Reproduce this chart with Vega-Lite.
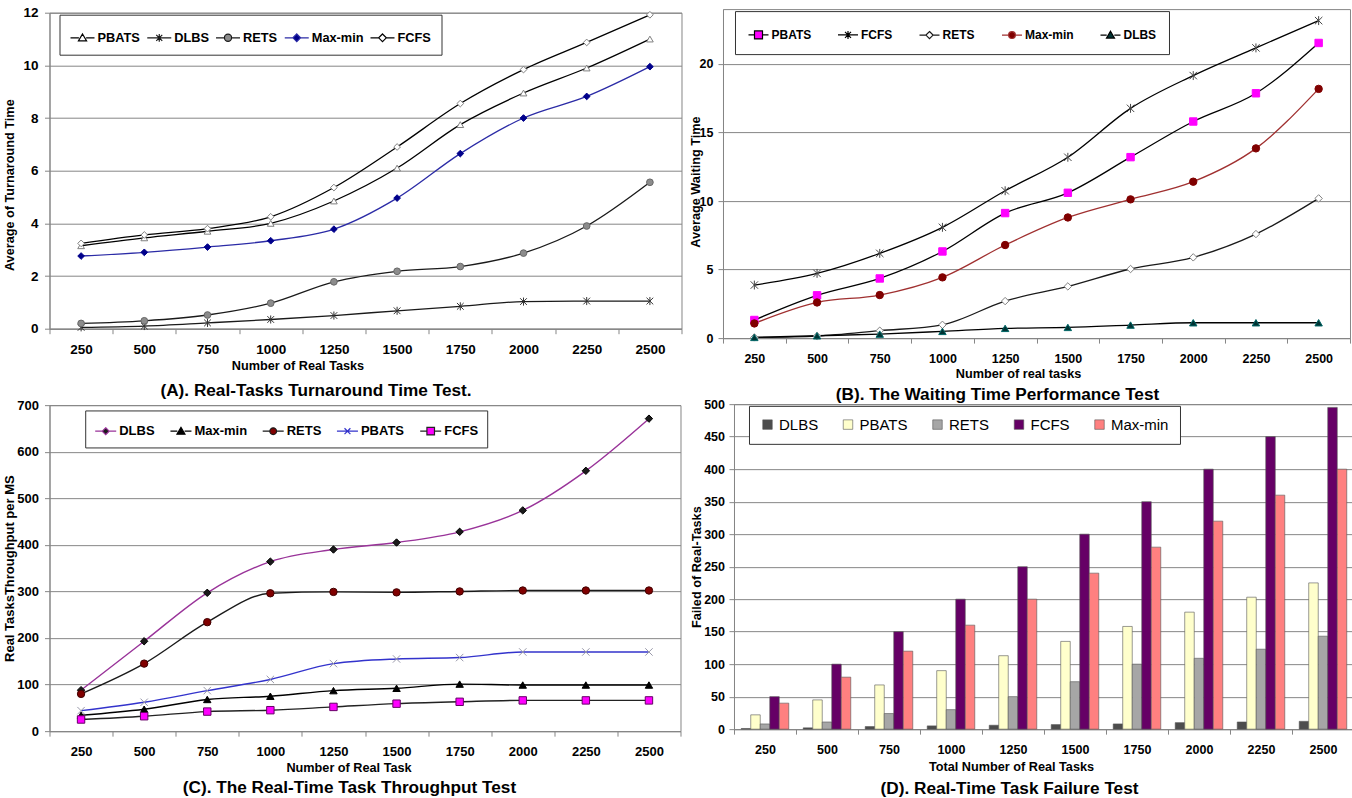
{
"$schema":"https://vega.github.io/schema/vega-lite/v6.json",
"background":"white",
"padding":{"left":2.5,"top":4.9,"right":0,"bottom":0},
"config":{
 "font":"Liberation Sans",
 "view":{"stroke":"#868686","strokeWidth":1},
 "axis":{"labelFont":"Liberation Sans","titleFont":"Liberation Sans","labelColor":"#000000","titleColor":"#000000","labelFontWeight":"bold","titleFontWeight":"bold","titleFontSize":12.7,"domainColor":"#868686","tickColor":"#868686","gridColor":"#868686","gridWidth":1,"tickSize":5},
 "axisX":{"grid":false,"labelAngle":0,"tickBand":"extent"},
 "axisY":{"grid":true},
 "legend":{"labelFont":"Liberation Sans","labelColor":"#000000"},
 "title":{"font":"Liberation Sans","fontWeight":"bold","fontSize":17.2,"color":"#000000","orient":"bottom","anchor":"middle","frame":"group"}
},
"datasets":{
"A":[
{"n":250,"s":"PBATS","v":3.15},{"n":500,"s":"PBATS","v":3.45},{"n":750,"s":"PBATS","v":3.7},{"n":1000,"s":"PBATS","v":4.0},{"n":1250,"s":"PBATS","v":4.85},{"n":1500,"s":"PBATS","v":6.1},{"n":1750,"s":"PBATS","v":7.75},{"n":2000,"s":"PBATS","v":8.95},{"n":2250,"s":"PBATS","v":9.9},{"n":2500,"s":"PBATS","v":11.0},
{"n":250,"s":"DLBS","v":0.05},{"n":500,"s":"DLBS","v":0.1},{"n":750,"s":"DLBS","v":0.22},{"n":1000,"s":"DLBS","v":0.35},{"n":1250,"s":"DLBS","v":0.5},{"n":1500,"s":"DLBS","v":0.68},{"n":1750,"s":"DLBS","v":0.85},{"n":2000,"s":"DLBS","v":1.03},{"n":2250,"s":"DLBS","v":1.05},{"n":2500,"s":"DLBS","v":1.05},
{"n":250,"s":"RETS","v":0.2},{"n":500,"s":"RETS","v":0.3},{"n":750,"s":"RETS","v":0.52},{"n":1000,"s":"RETS","v":0.97},{"n":1250,"s":"RETS","v":1.78},{"n":1500,"s":"RETS","v":2.18},{"n":1750,"s":"RETS","v":2.36},{"n":2000,"s":"RETS","v":2.87},{"n":2250,"s":"RETS","v":3.9},{"n":2500,"s":"RETS","v":5.56},
{"n":250,"s":"Max-min","v":2.76},{"n":500,"s":"Max-min","v":2.9},{"n":750,"s":"Max-min","v":3.1},{"n":1000,"s":"Max-min","v":3.34},{"n":1250,"s":"Max-min","v":3.78},{"n":1500,"s":"Max-min","v":4.96},{"n":1750,"s":"Max-min","v":6.65},{"n":2000,"s":"Max-min","v":8.0},{"n":2250,"s":"Max-min","v":8.82},{"n":2500,"s":"Max-min","v":9.95},
{"n":250,"s":"FCFS","v":3.24},{"n":500,"s":"FCFS","v":3.56},{"n":750,"s":"FCFS","v":3.8},{"n":1000,"s":"FCFS","v":4.25},{"n":1250,"s":"FCFS","v":5.36},{"n":1500,"s":"FCFS","v":6.9},{"n":1750,"s":"FCFS","v":8.55},{"n":2000,"s":"FCFS","v":9.84},{"n":2250,"s":"FCFS","v":10.87},{"n":2500,"s":"FCFS","v":11.92}
],
"B":[
{"n":250,"s":"PBATS","v":1.32},{"n":500,"s":"PBATS","v":3.12},{"n":750,"s":"PBATS","v":4.35},{"n":1000,"s":"PBATS","v":6.32},{"n":1250,"s":"PBATS","v":9.12},{"n":1500,"s":"PBATS","v":10.6},{"n":1750,"s":"PBATS","v":13.2},{"n":2000,"s":"PBATS","v":15.8},{"n":2250,"s":"PBATS","v":17.86},{"n":2500,"s":"PBATS","v":21.53},
{"n":250,"s":"FCFS","v":3.87},{"n":500,"s":"FCFS","v":4.72},{"n":750,"s":"FCFS","v":6.18},{"n":1000,"s":"FCFS","v":8.08},{"n":1250,"s":"FCFS","v":10.75},{"n":1500,"s":"FCFS","v":13.19},{"n":1750,"s":"FCFS","v":16.76},{"n":2000,"s":"FCFS","v":19.15},{"n":2250,"s":"FCFS","v":21.17},{"n":2500,"s":"FCFS","v":23.16},
{"n":250,"s":"RETS","v":0.05},{"n":500,"s":"RETS","v":0.15},{"n":750,"s":"RETS","v":0.54},{"n":1000,"s":"RETS","v":0.97},{"n":1250,"s":"RETS","v":2.7},{"n":1500,"s":"RETS","v":3.77},{"n":1750,"s":"RETS","v":5.04},{"n":2000,"s":"RETS","v":5.89},{"n":2250,"s":"RETS","v":7.59},{"n":2500,"s":"RETS","v":10.19},
{"n":250,"s":"Max-min","v":1.07},{"n":500,"s":"Max-min","v":2.6},{"n":750,"s":"Max-min","v":3.14},{"n":1000,"s":"Max-min","v":4.43},{"n":1250,"s":"Max-min","v":6.79},{"n":1500,"s":"Max-min","v":8.8},{"n":1750,"s":"Max-min","v":10.12},{"n":2000,"s":"Max-min","v":11.41},{"n":2250,"s":"Max-min","v":13.84},{"n":2500,"s":"Max-min","v":18.18},
{"n":250,"s":"DLBS","v":0.05},{"n":500,"s":"DLBS","v":0.17},{"n":750,"s":"DLBS","v":0.29},{"n":1000,"s":"DLBS","v":0.49},{"n":1250,"s":"DLBS","v":0.71},{"n":1500,"s":"DLBS","v":0.78},{"n":1750,"s":"DLBS","v":0.95},{"n":2000,"s":"DLBS","v":1.12},{"n":2250,"s":"DLBS","v":1.12},{"n":2500,"s":"DLBS","v":1.12}
],
"C":[
{"n":250,"s":"DLBS","v":88},{"n":500,"s":"DLBS","v":193},{"n":750,"s":"DLBS","v":297},{"n":1000,"s":"DLBS","v":364},{"n":1250,"s":"DLBS","v":390},{"n":1500,"s":"DLBS","v":405},{"n":1750,"s":"DLBS","v":428},{"n":2000,"s":"DLBS","v":474},{"n":2250,"s":"DLBS","v":559},{"n":2500,"s":"DLBS","v":671},
{"n":250,"s":"Max-min","v":34},{"n":500,"s":"Max-min","v":47},{"n":750,"s":"Max-min","v":68},{"n":1000,"s":"Max-min","v":75},{"n":1250,"s":"Max-min","v":87},{"n":1500,"s":"Max-min","v":92},{"n":1750,"s":"Max-min","v":101},{"n":2000,"s":"Max-min","v":99},{"n":2250,"s":"Max-min","v":99},{"n":2500,"s":"Max-min","v":99},
{"n":250,"s":"RETS","v":80},{"n":500,"s":"RETS","v":145},{"n":750,"s":"RETS","v":234},{"n":1000,"s":"RETS","v":296},{"n":1250,"s":"RETS","v":299},{"n":1500,"s":"RETS","v":298},{"n":1750,"s":"RETS","v":300},{"n":2000,"s":"RETS","v":302},{"n":2250,"s":"RETS","v":302},{"n":2500,"s":"RETS","v":302},
{"n":250,"s":"PBATS","v":44},{"n":500,"s":"PBATS","v":62},{"n":750,"s":"PBATS","v":87},{"n":1000,"s":"PBATS","v":111},{"n":1250,"s":"PBATS","v":145},{"n":1500,"s":"PBATS","v":155},{"n":1750,"s":"PBATS","v":158},{"n":2000,"s":"PBATS","v":170},{"n":2250,"s":"PBATS","v":170},{"n":2500,"s":"PBATS","v":170},
{"n":250,"s":"FCFS","v":25},{"n":500,"s":"FCFS","v":32},{"n":750,"s":"FCFS","v":42},{"n":1000,"s":"FCFS","v":45},{"n":1250,"s":"FCFS","v":52},{"n":1500,"s":"FCFS","v":59},{"n":1750,"s":"FCFS","v":63},{"n":2000,"s":"FCFS","v":66},{"n":2250,"s":"FCFS","v":66},{"n":2500,"s":"FCFS","v":66}
],
"D":[
{"n":250,"s":"DLBS","v":1},{"n":500,"s":"DLBS","v":2},{"n":750,"s":"DLBS","v":4},{"n":1000,"s":"DLBS","v":5},{"n":1250,"s":"DLBS","v":6},{"n":1500,"s":"DLBS","v":7},{"n":1750,"s":"DLBS","v":8},{"n":2000,"s":"DLBS","v":10},{"n":2250,"s":"DLBS","v":11},{"n":2500,"s":"DLBS","v":12},
{"n":250,"s":"PBATS","v":22},{"n":500,"s":"PBATS","v":45},{"n":750,"s":"PBATS","v":68},{"n":1000,"s":"PBATS","v":90},{"n":1250,"s":"PBATS","v":113},{"n":1500,"s":"PBATS","v":135},{"n":1750,"s":"PBATS","v":158},{"n":2000,"s":"PBATS","v":180},{"n":2250,"s":"PBATS","v":203},{"n":2500,"s":"PBATS","v":225},
{"n":250,"s":"RETS","v":8},{"n":500,"s":"RETS","v":11},{"n":750,"s":"RETS","v":24},{"n":1000,"s":"RETS","v":30},{"n":1250,"s":"RETS","v":50},{"n":1500,"s":"RETS","v":73},{"n":1750,"s":"RETS","v":100},{"n":2000,"s":"RETS","v":109},{"n":2250,"s":"RETS","v":123},{"n":2500,"s":"RETS","v":143},
{"n":250,"s":"FCFS","v":50},{"n":500,"s":"FCFS","v":100},{"n":750,"s":"FCFS","v":150},{"n":1000,"s":"FCFS","v":200},{"n":1250,"s":"FCFS","v":250},{"n":1500,"s":"FCFS","v":300},{"n":1750,"s":"FCFS","v":350},{"n":2000,"s":"FCFS","v":400},{"n":2250,"s":"FCFS","v":450},{"n":2500,"s":"FCFS","v":495},
{"n":250,"s":"Max-min","v":40},{"n":500,"s":"Max-min","v":80},{"n":750,"s":"Max-min","v":120},{"n":1000,"s":"Max-min","v":160},{"n":1250,"s":"Max-min","v":200},{"n":1500,"s":"Max-min","v":240},{"n":1750,"s":"Max-min","v":280},{"n":2000,"s":"Max-min","v":320},{"n":2250,"s":"Max-min","v":360},{"n":2500,"s":"Max-min","v":400}
]
},
"spacing":-7,
"resolve":{"scale":{"color":"independent","fill":"independent","stroke":"independent","shape":"independent"},"legend":{"color":"independent","fill":"independent","stroke":"independent","shape":"independent"}},
"vconcat":[
{"bounds":"full","center":true,"spacing":6.5,
 "resolve":{"scale":{"color":"independent","fill":"independent","stroke":"independent","shape":"independent"},"legend":{"color":"independent","fill":"independent","stroke":"independent","shape":"independent"}},
 "hconcat":[
 {"width":632,"height":316,"data":{"name":"A"},
  "title":{"text":"(A). Real-Tasks Turnaround Time Test.","dx":-49.5,"offset":10},
  "encoding":{
   "x":{"field":"n","type":"ordinal","scale":{"type":"band","paddingInner":0,"paddingOuter":0},"axis":{"title":"Number of Real Tasks","labelFontSize":13.5,"labelPadding":8.5,"titleX":248,"titleY":31}},
   "y":{"field":"v","type":"quantitative","scale":{"domain":[0,12],"nice":false},"axis":{"title":"Average of Turnaround Time","values":[0,2,4,6,8,10,12],"labelFontSize":13.5,"labelPadding":6.5,"titleX":-33,"titleY":172}}
  },
  "layer":[
   {"mark":{"type":"line","interpolate":"monotone","strokeWidth":1.3},
    "encoding":{"color":{"field":"s","type":"nominal","scale":{"domain":["PBATS","DLBS","RETS","Max-min","FCFS"],"range":["#000000","#1a1a1a","#1a1a1a","#2b2ba6","#000000"]},
      "legend":{"title":null,"orient":"none","legendX":10,"legendY":2,"direction":"horizontal","columns":5,"padding":10,"strokeColor":"#333333","fillColor":"#ffffff","symbolSize":576,"labelFontSize":12.8,"labelFontWeight":"bold","labelOffset":2,"columnPadding":3.75,"symbolStrokeWidth":1.2,
       "encode":{"symbols":{"update":{
        "shape":{"signal":"datum.value==='PBATS'?'M-1,0H-0.3M0.3,0H1M0,-0.32L0.34,0.26H-0.34Z':datum.value==='DLBS'?'M-1,0H1M-0.25,-0.25L0.25,0.25M0.25,-0.25L-0.25,0.25M0,-0.32V0.32':datum.value==='RETS'?'M-1,0H-0.3M0.3,0H1M0.3,0A0.3,0.3,0,1,1,-0.3,0A0.3,0.3,0,1,1,0.3,0Z':'M-1,0H-0.32M0.32,0H1M0,-0.32L0.32,0L0,0.32L-0.32,0Z'"},
        "fill":{"signal":"datum.value==='RETS'?'#8c8c8c':datum.value==='Max-min'?'#00008b':'#ffffff'"}}}}}}}},
   {"mark":{"type":"point","filled":true,"opacity":1,"size":45,"strokeWidth":1},
    "encoding":{
     "shape":{"field":"s","type":"nominal","legend":null,"scale":{"domain":["FCFS","Max-min","RETS","DLBS","PBATS"],"range":["diamond","diamond","circle","M-1,-1L1,1M1,-1L-1,1M0,-1.2V1.2","triangle-up"]}},
     "stroke":{"field":"s","type":"nominal","legend":null,"scale":{"domain":["FCFS","Max-min","RETS","DLBS","PBATS"],"range":["#808080","#00008b","#666666","#333333","#808080"]}},
     "fill":{"field":"s","type":"nominal","legend":null,"scale":{"domain":["FCFS","Max-min","RETS","DLBS","PBATS"],"range":["#ffffff","#00008b","#8c8c8c","#ffffff","#ffffff"]}}
    }}
  ]},
 {"width":627,"height":329,"data":{"name":"B"},
  "title":{"text":"(B). The Waiting Time Performance Test","dx":-39,"offset":6.2},
  "encoding":{
   "x":{"field":"n","type":"ordinal","scale":{"type":"band","paddingInner":0,"paddingOuter":0},"axis":{"title":"Number of real tasks","labelFontSize":12.5,"labelPadding":9.5,"titleX":295,"titleY":29}},
   "y":{"field":"v","type":"quantitative","scale":{"domain":[0,24],"nice":false},"axis":{"title":"Average Waiting Time","values":[0,5,10,15,20],"labelFontSize":12.5,"labelPadding":5,"titleX":-20,"titleY":172.5}}
  },
  "layer":[
   {"mark":{"type":"line","interpolate":"monotone","strokeWidth":1.3},
    "encoding":{"color":{"field":"s","type":"nominal","scale":{"domain":["PBATS","FCFS","RETS","Max-min","DLBS"],"range":["#000000","#000000","#1a1a1a","#a03030","#000000"]},
      "legend":{"title":null,"orient":"none","legendX":12,"legendY":2,"direction":"horizontal","columns":5,"padding":12.5,"strokeColor":"#333333","fillColor":"#ffffff","symbolSize":400,"labelFontSize":12,"labelFontWeight":"bold","labelOffset":2,"columnPadding":23.5,"symbolStrokeWidth":1.2,
       "encode":{"symbols":{"update":{
        "shape":{"signal":"datum.value==='PBATS'?'M-1,0H-0.4M0.4,0H1M-0.4,-0.4H0.4V0.4H-0.4Z':datum.value==='FCFS'?'M-1,0H1M-0.3,-0.3L0.3,0.3M0.3,-0.3L-0.3,0.3M0,-0.4V0.4':datum.value==='RETS'?'M-1,0H-0.36M0.36,0H1M0,-0.36L0.36,0L0,0.36L-0.36,0Z':datum.value==='Max-min'?'M-1,0H-0.34M0.34,0H1M0.34,0A0.34,0.34,0,1,1,-0.34,0A0.34,0.34,0,1,1,0.34,0Z':'M-1,0H-0.38M0.38,0H1M0,-0.38L0.4,0.3H-0.4Z'"},
        "fill":{"signal":"datum.value==='PBATS'?'#ff00ff':datum.value==='Max-min'?'#800000':datum.value==='DLBS'?'#003333':'#ffffff'"}}}}}}}},
   {"mark":{"type":"point","filled":true,"opacity":1,"size":55,"strokeWidth":1},
    "encoding":{
     "shape":{"field":"s","type":"nominal","legend":null,"scale":{"domain":["DLBS","Max-min","RETS","FCFS","PBATS"],"range":["triangle-up","circle","diamond","M-1,-1L1,1M1,-1L-1,1M0,-1.2V1.2","square"]}},
     "stroke":{"field":"s","type":"nominal","legend":null,"scale":{"domain":["DLBS","Max-min","RETS","FCFS","PBATS"],"range":["#006666","#800000","#808080","#444444","#ff00ff"]}},
     "fill":{"field":"s","type":"nominal","legend":null,"scale":{"domain":["DLBS","Max-min","RETS","FCFS","PBATS"],"range":["#003333","#800000","#ffffff","#ffffff","#ff00ff"]}}
    }}
  ]}
 ]},
{"bounds":"full","center":true,"spacing":8.5,
 "resolve":{"scale":{"color":"independent","fill":"independent","stroke":"independent","shape":"independent"},"legend":{"color":"independent","fill":"independent","stroke":"independent","shape":"independent"}},
 "hconcat":[
 {"width":631,"height":326,"data":{"name":"C"},
  "title":{"text":"(C). The Real-Time Task Throughput Test","dx":-15.5,"offset":4.7},
  "encoding":{
   "x":{"field":"n","type":"ordinal","scale":{"type":"band","paddingInner":0,"paddingOuter":0},"axis":{"title":"Number of Real Task","labelFontSize":13,"labelPadding":9.5,"titleX":299,"titleY":30.4}},
   "y":{"field":"v","type":"quantitative","scale":{"domain":[0,700],"nice":false},"axis":{"title":"Real TasksThroughput per MS","values":[0,100,200,300,400,500,600,700],"labelFontSize":13,"labelPadding":6,"titleFontSize":13,"titleX":-33,"titleY":163}}
  },
  "layer":[
   {"mark":{"type":"line","interpolate":"monotone","strokeWidth":1.4},
    "encoding":{"color":{"field":"s","type":"nominal","scale":{"domain":["DLBS","Max-min","RETS","PBATS","FCFS"],"range":["#993399","#000000","#1a1a1a","#3333cc","#222222"]},
      "legend":{"title":null,"orient":"none","legendX":35.7,"legendY":5.3,"direction":"horizontal","columns":5,"padding":9,"strokeColor":"#333333","fillColor":"#ffffff","symbolSize":441,"labelFontSize":13,"labelFontWeight":"bold","labelOffset":2,"columnPadding":12.25,"symbolStrokeWidth":1.2,
       "encode":{"symbols":{"update":{
        "shape":{"signal":"datum.value==='DLBS'?'M-1,0H-0.33M0.33,0H1M0,-0.33L0.33,0L0,0.33L-0.33,0Z':datum.value==='Max-min'?'M-1,0H-0.35M0.35,0H1M0,-0.36L0.38,0.28H-0.38Z':datum.value==='RETS'?'M-1,0H-0.32M0.32,0H1M0.32,0A0.32,0.32,0,1,1,-0.32,0A0.32,0.32,0,1,1,0.32,0Z':datum.value==='PBATS'?'M-1,0H1M-0.28,-0.28L0.28,0.28M0.28,-0.28L-0.28,0.28':'M-1,0H-0.36M0.36,0H1M-0.36,-0.36H0.36V0.36H-0.36Z'"},
        "fill":{"signal":"datum.value==='DLBS'?'#1a1a1a':datum.value==='Max-min'?'#000000':datum.value==='RETS'?'#800000':datum.value==='PBATS'?'#ffffff':'#ff00ff'"}}}}}}}},
   {"mark":{"type":"point","filled":true,"opacity":1,"size":55,"strokeWidth":1},
    "encoding":{
     "shape":{"field":"s","type":"nominal","legend":null,"scale":{"domain":["FCFS","PBATS","RETS","Max-min","DLBS"],"range":["square","M-1,-1L1,1M1,-1L-1,1","circle","triangle-up","diamond"]}},
     "stroke":{"field":"s","type":"nominal","legend":null,"scale":{"domain":["FCFS","PBATS","RETS","Max-min","DLBS"],"range":["#660066","#9999aa","#400000","#000000","#000000"]}},
     "fill":{"field":"s","type":"nominal","legend":null,"scale":{"domain":["FCFS","PBATS","RETS","Max-min","DLBS"],"range":["#ff00ff","#ffffff","#800000","#000000","#1a1a1a"]}}
    }}
  ]},
 {"width":620,"height":325,"data":{"name":"D"},
  "title":{"text":"(D). Real-Time Task Failure Test","dx":-34.5,"offset":6.8},
  "mark":{"type":"bar","stroke":"#555555","strokeWidth":0.6},
  "encoding":{
   "x":{"field":"n","type":"ordinal","scale":{"type":"band","paddingInner":0,"paddingOuter":0},"axis":{"title":"Total Number of Real Tasks","labelFontSize":12.5,"labelPadding":9.3,"titleX":277,"titleY":31.3}},
   "xOffset":{"field":"s","type":"nominal","sort":["DLBS","PBATS","RETS","FCFS","Max-min"],"scale":{"domain":["DLBS","PBATS","RETS","FCFS","Max-min"],"paddingInner":0,"paddingOuter":0.76}},
   "y":{"field":"v","type":"quantitative","scale":{"domain":[0,500],"nice":false},"axis":{"title":"Failed of Real-Tasks","values":[0,50,100,150,200,250,300,350,400,450,500],"labelFontSize":12.5,"labelPadding":4.5,"titleX":-30,"titleY":162.5}},
   "fill":{"field":"s","type":"nominal","scale":{"domain":["DLBS","PBATS","RETS","FCFS","Max-min"],"range":["#4d4d4d","#ffffcc","#a6a6a6","#660066","#ff8080"]},
    "legend":{"title":null,"orient":"none","legendX":15,"legendY":1.7,"direction":"horizontal","columns":5,"padding":11,"strokeColor":"#333333","fillColor":"#ffffff","symbolType":"square","symbolSize":90,"symbolStrokeColor":"#555555","symbolStrokeWidth":0.6,"labelFontSize":15,"labelFontWeight":"normal","labelOffset":4,"columnPadding":21.5}}
  }}
 ]}
]
}
